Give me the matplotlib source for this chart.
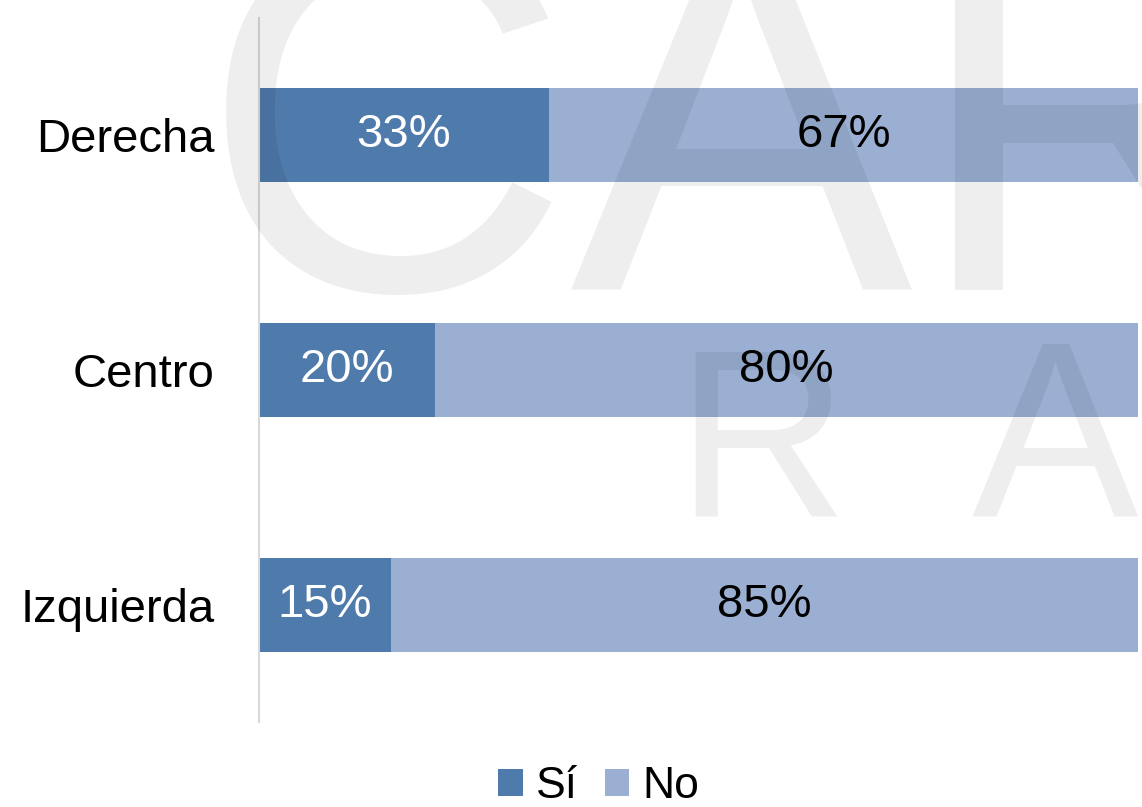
import matplotlib.pyplot as plt

plt.rcParams['font.family'] = ['Liberation Sans', 'DejaVu Sans']

categories = ['Derecha', 'Centro', 'Izquierda']
si = [33, 20, 15]
no = [67, 80, 85]
series_names = ['Sí', 'No']
c_si = '#4E7AAC'
c_no = '#9AAFD2'

W, H = 1142, 807
fig = plt.figure(figsize=(W / 100, H / 100), dpi=100)
ax = fig.add_axes([259 / W, 1 - 722 / H, (1138 - 259) / W, (722 - 18) / H])

ypos = list(range(len(categories)))
b1 = ax.barh(ypos, si, height=0.4, color=c_si, label=series_names[0])
b2 = ax.barh(ypos, no, left=si, height=0.4, color=c_no, label=series_names[1])

for y, s, n in zip(ypos, si, no):
    ax.text(s / 2, y, f'{s}%', ha='center', va='center', color='white', fontsize=34)
    ax.text(s + n / 2, y, f'{n}%', ha='center', va='center', color='black', fontsize=34)

ax.set_xlim(0, 100)
ax.set_ylim(2.5, -0.5)
ax.set_yticks(ypos)
ax.set_yticklabels(categories, fontsize=34)
ax.tick_params(axis='y', length=0, pad=32)
ax.tick_params(axis='x', bottom=False, labelbottom=False)
for side in ['top', 'right', 'bottom']:
    ax.spines[side].set_visible(False)
ax.spines['left'].set_color('#D9D9D9')
ax.spines['left'].set_linewidth(1.5)

# watermark
fig.text(200 / W, 1 - 290 / H, 'CAR', fontsize=370, color='black', alpha=0.065, zorder=10)
fig.text(675 / W, 1 - 515 / H, 'R', fontsize=172, color='black', alpha=0.065, zorder=10)
fig.text(972 / W, 1 - 515 / H, 'A', fontsize=180, color='black', alpha=0.065, zorder=10)

fig.legend(handles=[b1, b2], labels=series_names, loc='center', bbox_to_anchor=(599 / W, 1 - 787 / H),
           ncol=2, frameon=False, fontsize=32, handlelength=0.55, handleheight=0.55,
           handletextpad=0.3, columnspacing=0.6)

fig.savefig('out.png', dpi=100)
